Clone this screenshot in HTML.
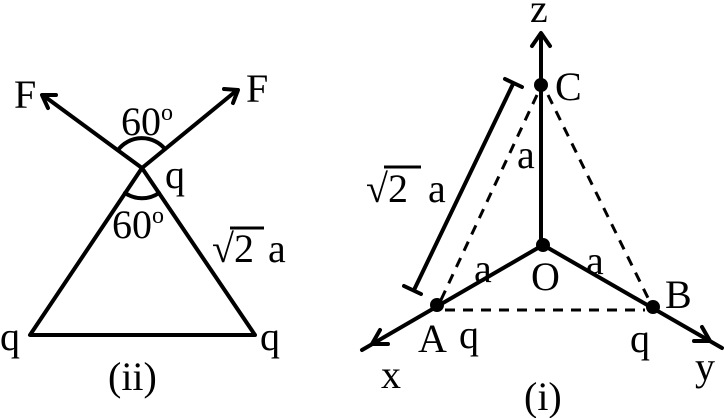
<!DOCTYPE html>
<html><head><style>body{margin:0;background:#fff}svg{display:block}text{font-family:"Liberation Serif",serif;fill:#000}</style></head><body>
<svg width="724" height="418" viewBox="0 0 724 418" xmlns="http://www.w3.org/2000/svg">
<g stroke="#000" stroke-width="4" fill="none" stroke-linecap="round" stroke-linejoin="round">
<polygon points="142,168 30,335 255,335"/>
<line x1="142" y1="168" x2="44" y2="96"/>
<line x1="142" y1="168" x2="236" y2="91"/>
<polyline points="48,108 42,95 56,95"/>
<polyline points="224,89 238,90 233,103"/>
<path d="M118,150 A30,30 0 0 1 165,149"/>
<path d="M125,193 A30,30 0 0 0 159,193"/>
<line x1="541" y1="245" x2="541" y2="34"/>
<polyline points="532,46 541,33 550,46"/>
<line x1="543" y1="245" x2="362" y2="350"/>
<line x1="543" y1="245" x2="722" y2="348"/>
<polyline points="388,344 372,344 380,330"/>
<polyline points="694,341 710,341 702,327"/>
<line x1="513" y1="84" x2="414" y2="290"/>
<line x1="505" y1="79" x2="522" y2="87"/>
<line x1="404" y1="286" x2="421" y2="294"/>
</g>
<g stroke="#000" stroke-width="3" stroke-dasharray="10,8" fill="none">
<line x1="537" y1="95" x2="440" y2="302"/>
<line x1="548" y1="95" x2="650" y2="302"/>
<line x1="445" y1="310" x2="645" y2="310"/>
</g>
<g fill="#000"><circle cx="541" cy="85" r="7"/><circle cx="543" cy="245" r="7"/><circle cx="437" cy="305" r="7"/><circle cx="653" cy="307" r="7"/></g>
<g font-size="40">
<text x="14" y="108">F</text><text x="246" y="102">F</text>
<text x="121" y="135">60<tspan font-size="24" dy="-15">o</tspan></text>
<text x="165" y="188">q</text>
<text x="112" y="238">60<tspan font-size="24" dy="-15">o</tspan></text>
<text x="0" y="350">q</text><text x="260" y="350">q</text>
<text x="108" y="390">(ii)</text>
<text x="530" y="22">z</text>
<text x="555" y="100">C</text>
<text x="517" y="168">a</text>
<text x="474" y="282">a</text>
<text x="586" y="274">a</text>
<text x="531" y="290">O</text>
<text x="665" y="308">B</text>
<text x="418" y="352">A</text>
<text x="459" y="348">q</text>
<text x="630" y="352">q</text>
<text x="381" y="388">x</text>
<text x="695" y="380">y</text>
<text x="524" y="410">(i)</text>
</g>
<g font-size="40">
<text x="212" y="262">√2</text><text x="268" y="262">a</text>
<text x="366" y="202">√2</text><text x="428" y="202">a</text>
</g>
<g stroke="#000" stroke-width="3"><line x1="230" y1="228" x2="264" y2="228"/><line x1="384" y1="167" x2="421" y2="167"/></g>
</svg>
</body></html>
